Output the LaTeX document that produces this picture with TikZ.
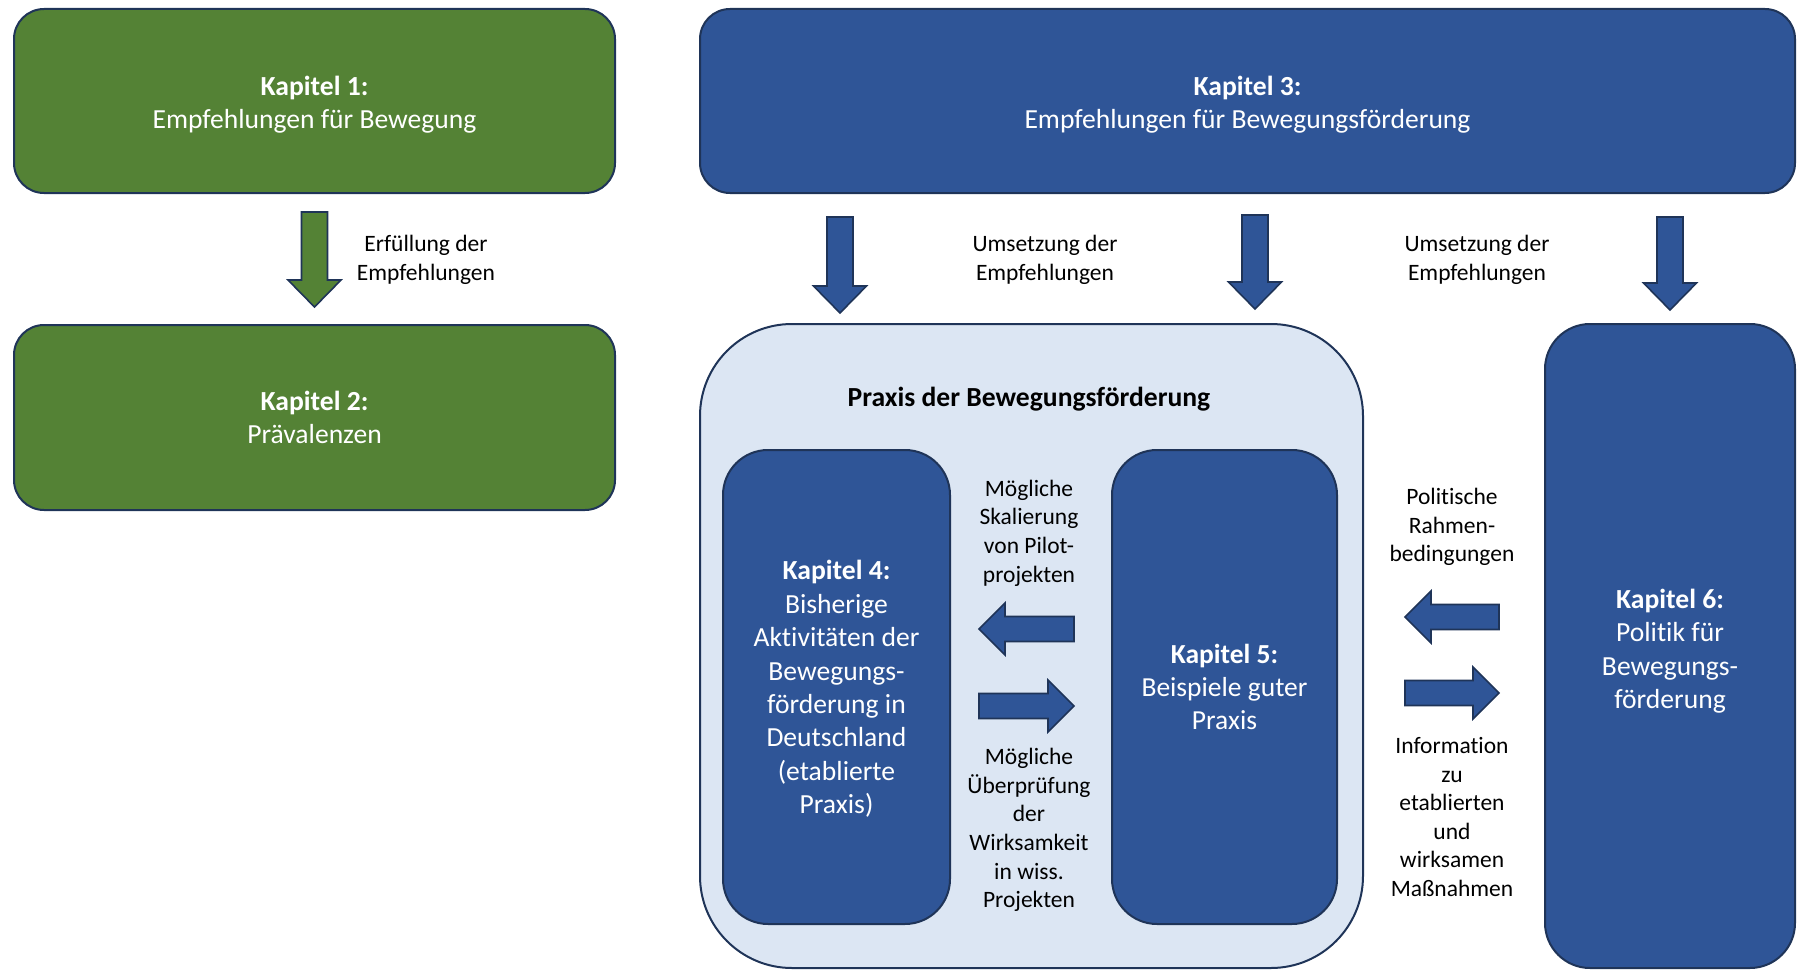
\documentclass[tikz,border=0pt]{standalone}
\usepackage{fontspec}
\setmainfont{Carlito}[Ligatures=NoCommon]

\definecolor{kgreen}{HTML}{548235}
\definecolor{kblue}{HTML}{2F5597}
\definecolor{klight}{HTML}{DCE6F3}
\definecolor{edge}{HTML}{1F3458}

% Block arrow pointing down: x, top y, tip y, fill colour
\newcommand{\downblock}[4]{%
  \filldraw[blockarrow, fill=#4]
    (#1-13,#2) -- (#1+13,#2) -- (#1+13,#3-27) -- (#1+26.5,#3-27)
    -- (#1,#3) -- (#1-26.5,#3-27) -- (#1-13,#3-27) -- cycle;}
% Block arrow pointing left: tip x, tail x, y
\newcommand{\leftblock}[3]{%
  \filldraw[blockarrow, fill=kblue]
    (#1,#3) -- (#1+26,#3-26) -- (#1+26,#3-12.5) -- (#2,#3-12.5)
    -- (#2,#3+12.5) -- (#1+26,#3+12.5) -- (#1+26,#3+26) -- cycle;}
% Block arrow pointing right: tail x, tip x, y
\newcommand{\rightblock}[3]{%
  \filldraw[blockarrow, fill=kblue]
    (#2,#3) -- (#2-26,#3-26) -- (#2-26,#3-12.5) -- (#1,#3-12.5)
    -- (#1,#3+12.5) -- (#2-26,#3+12.5) -- (#2-26,#3+26) -- cycle;}

\begin{document}
\begin{tikzpicture}[x=1pt,y=-1pt,
  box/.style={draw=edge, line width=2pt, text=white, align=center, inner sep=0pt},
  greenbox/.style={box, fill=kgreen, rounded corners=30pt,
    font=\fontsize{27.6}{33}\selectfont},
  widebox/.style={box, fill=kblue, rounded corners=30pt,
    font=\fontsize{27.6}{33}\selectfont},
  tallbox/.style={box, fill=kblue, rounded corners=45pt,
    font=\fontsize{27.5}{33.4}\selectfont},
  boxtext/.style={text=white, align=center, inner sep=0pt,
    font=\fontsize{27.6}{33.4}\selectfont},
  praxisbox/.style={draw=edge, line width=2pt, fill=klight, rounded corners=92pt, inner sep=0pt},
  lbl/.style={align=center, text=black, inner sep=0pt,
    font=\fontsize{23.5}{28.6}\selectfont},
  blockarrow/.style={draw=edge, line width=1.6pt, line join=miter}
]
\useasboundingbox (0,0) rectangle (1797,971);

% Kapitel 1 and 2
\node[greenbox, minimum width=601pt, minimum height=184pt] (k1) at (314.5,101) {};
\node[boxtext] (k1t) at (314.5,104.5) {\textbf{Kapitel 1:}\\Empfehlungen für Bewegung};
\node[greenbox, minimum width=601pt, minimum height=185pt] (k2) at (314.5,417.5)
  {\textbf{Kapitel 2:}\\Prävalenzen};
\downblock{314.5}{212}{307}{kgreen}
\node[lbl] (l12) at (426,260) {Erfüllung der\\Empfehlungen};

% Kapitel 3
\node[widebox, minimum width=1095pt, minimum height=184pt] (k3) at (1247.5,101) {};
\node[boxtext] (k3t) at (1247.5,104.5) {\textbf{Kapitel 3:}\\Empfehlungen für Bewegungsförderung};
\downblock{840}{217}{313}{kblue}
\downblock{1255}{215}{309}{kblue}
\downblock{1670}{217}{310}{kblue}
\node[lbl] (l3a) at (1045,260) {Umsetzung der\\Empfehlungen};
\node[lbl] (l3b) at (1477,260) {Umsetzung der\\Empfehlungen};

% Praxis der Bewegungsförderung
\node[praxisbox, minimum width=663pt, minimum height=644pt] (praxis) at (1031.5,646) {};
\node[inner sep=0pt, font=\fontsize{27.6}{30}\selectfont\bfseries] (ptitle) at (1029,399)
  {Praxis der Bewegungsförderung};
\node[tallbox, minimum width=227pt, minimum height=474pt] (k4) at (836.5,687) {};
\node[boxtext] (k4t) at (836.5,689)
  {\textbf{Kapitel 4:}\\Bisherige\\Aktivitäten der\\Bewegungs-\\förderung in\\Deutschland\\(etablierte\\Praxis)};
\node[tallbox, minimum width=225pt, minimum height=474pt] (k5) at (1224.5,687)
  {\textbf{Kapitel 5:}\\Beispiele guter\\Praxis};
\leftblock{979}{1074}{629}
\rightblock{979}{1074}{706}
\node[lbl] (lska) at (1029,533) {Mögliche\\Skalierung\\von Pilot-\\projekten};
\node[lbl] (luep) at (1029,830) {Mögliche\\Überprüfung\\der\\Wirksamkeit\\in wiss.\\Projekten};

% Kapitel 6
\node[tallbox, minimum width=250pt, minimum height=644pt] (k6) at (1670,646) {};
\node[boxtext] (k6t) at (1670,651)
  {\textbf{Kapitel 6:}\\Politik für\\Bewegungs-\\förderung};
\leftblock{1405}{1499}{617}
\rightblock{1405}{1499}{693}
\node[lbl] (lpol) at (1452,527) {Politische\\Rahmen-\\bedingungen};
\node[lbl] (linf) at (1452,817) {Information\\zu\\etablierten\\und\\wirksamen\\Maßnahmen};
\end{tikzpicture}
\end{document}
